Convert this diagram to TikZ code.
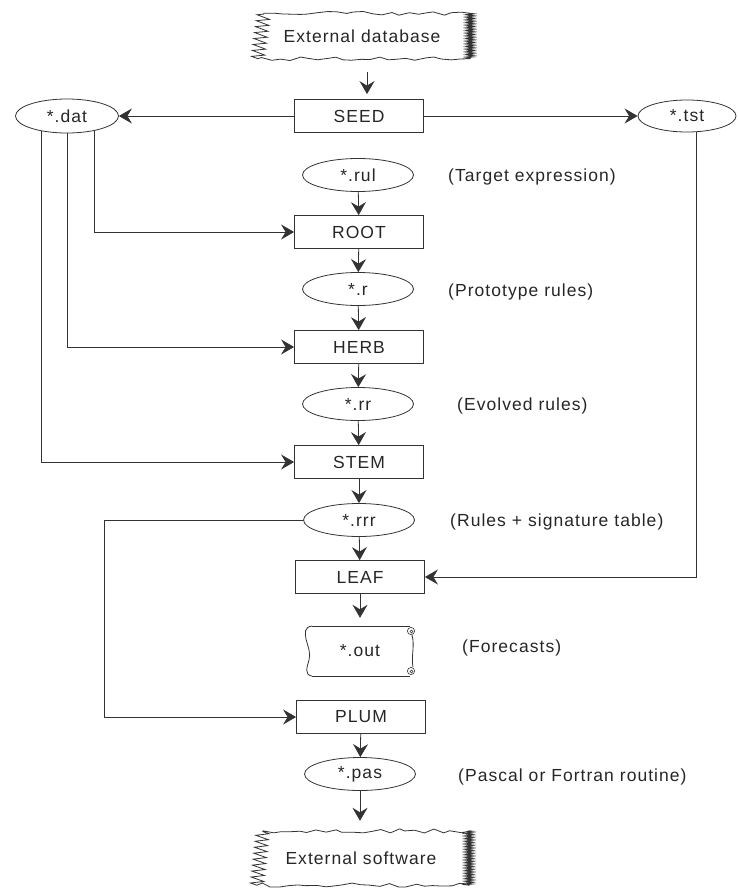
\documentclass[tikz,border=0pt]{standalone}
\usepackage{fontspec}
\setmainfont{Liberation Sans}[LetterSpace=6]
\usetikzlibrary{arrows.meta,decorations.pathmorphing,shapes.geometric}
\newcommand\jagborder[1]{%
  \draw[conn] ([xshift=10pt]#1.north west)
    decorate[decoration={random steps,segment length=9pt,amplitude=2.2pt}]{-- (#1.north east)}
    decorate[decoration={zigzag,segment length=1.6pt,amplitude=3.5pt}]{-- (#1.south east)}
    decorate[decoration={random steps,segment length=9pt,amplitude=2.2pt}]{-- ([xshift=4pt]#1.south west)}
    decorate[decoration={zigzag,segment length=6pt,amplitude=6.5pt}]{-- ([xshift=10pt]#1.north west)};}
\begin{document}
\begin{tikzpicture}[x=1pt,y=-1pt,
  every node/.style={font=\fontsize{17.5}{20}\selectfont, text=black!85},
  conn/.style={draw=black!80, line width=0.8pt},
  proc/.style={conn, rectangle, minimum width=129pt, minimum height=33pt, inner sep=0pt},
  file/.style={conn, ellipse, minimum width=111pt, minimum height=33pt, inner sep=0pt},
  note/.style={anchor=west, inner sep=0pt},
  arr/.style={conn, -{Stealth[length=13pt,width=15pt,inset=4.5pt]}},
  cloudtext/.style={minimum width=216pt, inner sep=0pt}]
\pgfmathsetseed{11}
\useasboundingbox (0,0) rectangle (737,889);

% external shapes
\node[cloudtext, minimum height=45pt] (extdb) at (362,36) {External database};
\jagborder{extdb}
\node[cloudtext, minimum height=54pt] (extsw) at (361,858) {External software};
\jagborder{extsw}

% main column
\node[proc] (seed) at (359,116) {SEED};
\node[file] (rul)  at (358,175) {*.rul};
\node[proc] (root) at (359,232) {ROOT};
\node[file] (r)    at (358,289) {*.r};
\node[proc] (herb) at (359,347) {HERB};
\node[file] (rr)   at (358,404) {*.rr};
\node[proc] (stem) at (359,462) {STEM};
\node[file] (rrr)  at (359,520) {*.rrr};
\node[proc] (leaf) at (360,577) {LEAF};
\node[minimum width=110pt, minimum height=50pt, inner sep=0pt] (out) at (360,651) {*.out};
\node[proc] (plum) at (361,717) {PLUM};
\node[file] (pas)  at (360,774) {*.pas};

% side files
\node[file, minimum width=103pt, minimum height=34pt] (dat) at (67,116) {*.dat};
\node[file, minimum width=98pt, minimum height=32pt] (tst) at (687,116) {*.tst};

% scroll outline of *.out
\begin{scope}[shift={(out.center)}]
  \draw[conn] (-48,-25) -- (50,-25);
  \draw[conn] (-48,25) -- (50,25);
  \draw[conn] (-48,-25) .. controls (-56,-24) and (-55,-18) .. (-54,-12)
     .. controls (-52,-4) and (-49,2) .. (-51,9)
     .. controls (-53,16) and (-56,24) .. (-48,25);
  \draw[conn] (52,-16) .. controls (55,-6) and (51,6) .. (53,16);
  \draw[conn, line width=0.6pt] (51,-20) circle (3.6pt);
  \draw[conn, line width=0.5pt] (51.5,-19.5) circle (1.5pt);
  \draw[conn, line width=0.6pt] (51,20) circle (3.6pt);
  \draw[conn, line width=0.5pt] (51.5,20.5) circle (1.5pt);
\end{scope}

% notes
\node[note] (lrul) at (448,177) {(Target expression)};
\node[note] (lr)   at (448,292) {(Prototype rules)};
\node[note] (lrr)  at (457,406) {(Evolved rules)};
\node[note] (lrrr) at (450,522) {(Rules + signature table)};
\node[note] (lout) at (462,648) {(Forecasts)};
\node[note] (lpas) at (458,777) {(Pascal or Fortran routine)};

% connectors
\draw[arr, shorten <=13pt, shorten >=5pt] ([xshift=5pt]extdb.south) -- ([xshift=5pt]extdb.south |- seed.north);
\draw[arr] (seed.west) -- (dat.east);
\draw[arr] (seed.east) -- (tst.west);
\draw[arr] (rul) -- (root);
\draw[arr] (root) -- (r);
\draw[arr] (r) -- (herb);
\draw[arr] (herb) -- (rr);
\draw[arr] (rr) -- (stem);
\draw[arr] (stem) -- (rrr);
\draw[arr] (rrr) -- (leaf);
\draw[arr, shorten >=8pt] (leaf.south) -- (leaf.south |- out.north);
\draw[arr] (plum) -- (pas);
\draw[arr, shorten >=10pt] (pas.south) -- (pas.south |- extsw.north);

\draw[arr] (dat.332) |- (root.west);
\draw[arr] (dat.south) |- (herb.west);
\draw[arr] (dat.210) |- (stem.west);
\draw[arr] (tst.300) |- (leaf.east);
\coordinate (bend) at (104,520);
\draw[arr] (rrr.west) -- (bend) |- (plum.west);
\end{tikzpicture}
\end{document}
